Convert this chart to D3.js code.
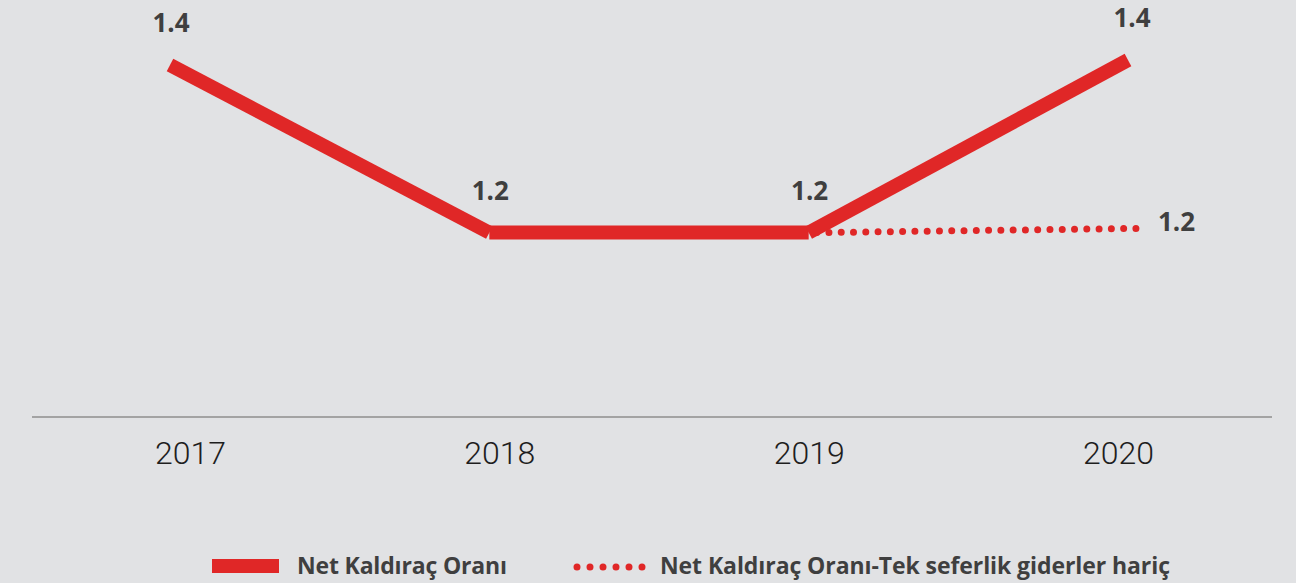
<!DOCTYPE html>
<html>
<head>
<meta charset="utf-8">
<script src="https://cdn.jsdelivr.net/npm/d3@7"></script>
<style>
  html, body { margin: 0; padding: 0; background: #e1e2e4; }
  svg { display: block; }
</style>
</head>
<body>
<div id="viz"></div>
<script>
// veriler
const years = ["2017", "2018", "2019", "2020"];
const netLeverage = [1.40, 1.20, 1.20, 1.406];
const netLeverageExOneOff = [null, null, 1.20, 1.205];
const seriesNames = ["Net Kaldıraç Oranı", "Net Kaldıraç Oranı-Tek seferlik giderler hariç"];

const W = 1296, H = 583;
const RED = "#e02727";
const LABEL = "#3f3f3f";

const svg = d3.select("#viz").append("svg")
    .attr("width", W)
    .attr("height", H);

svg.append("rect")
    .attr("width", W)
    .attr("height", H)
    .attr("fill", "#e1e2e4");

// ölçekler
const x = d3.scalePoint().domain(years).range([170, 1128]);
const xTick = d3.scalePoint().domain(years).range([190, 1118]);
const y = d3.scaleLinear().domain([0.98, 1.4]).range([417, 65]);

// taban çizgisi
svg.append("line")
    .attr("x1", 32)
    .attr("x2", 1272)
    .attr("y1", y(0.98))
    .attr("y2", y(0.98))
    .attr("stroke", "#a3a3a3")
    .attr("stroke-width", 2);

// yıl etiketleri
const axis = svg.append("g")
    .attr("transform", `translate(0,${y(0.98)})`)
    .call(d3.axisBottom(xTick).tickSize(0).tickPadding(24));
axis.select(".domain").remove();
axis.selectAll("text")
    .attr("font-family", "Roboto, sans-serif")
    .attr("font-weight", 300)
    .attr("font-size", 32)
    .attr("fill", "#1e1e1e")
    .attr("dy", "0.71em");

// noktalı seri (altta, biraz sağa kaymış)
const dotted = years.map((yr, i) => ({ yr, v: netLeverageExOneOff[i] }))
    .filter(d => d.v != null);

svg.append("path")
    .datum(dotted)
    .attr("transform", "translate(8,0)")
    .attr("d", d3.line().x(d => x(d.yr)).y(d => y(d.v)))
    .attr("fill", "none")
    .attr("stroke", RED)
    .attr("stroke-width", 7)
    .attr("stroke-linecap", "round")
    .attr("stroke-dasharray", "0,12.28");

// düz seri: her parça ayrı (köşelerde çentik)
const solid = years.map((yr, i) => ({ yr, v: netLeverage[i] }));
svg.selectAll(".seg")
    .data(d3.pairs(solid))
    .join("line")
    .attr("class", "seg")
    .attr("x1", d => x(d[0].yr))
    .attr("y1", d => y(d[0].v))
    .attr("x2", d => x(d[1].yr))
    .attr("y2", d => y(d[1].v))
    .attr("stroke", RED)
    .attr("stroke-width", 14)
    .attr("stroke-linecap", "butt");

// değer etiketleri
const fmt = d3.format(".1f");
svg.selectAll(".val")
    .data(solid)
    .join("text")
    .attr("class", "val")
    .attr("x", d => x(d.yr) + (d.yr === "2020" ? 4 : 1))
    .attr("y", d => y(d.v) - 33)
    .attr("text-anchor", "middle")
    .attr("font-family", "'Open Sans', sans-serif")
    .attr("font-weight", 700)
    .attr("font-size", 26)
    .attr("fill", LABEL)
    .text(d => fmt(d.v));

const last = dotted[dotted.length - 1];
svg.append("text")
    .attr("x", x(last.yr) + 30)
    .attr("y", y(last.v) + 3)
    .attr("font-family", "'Open Sans', sans-serif")
    .attr("font-weight", 700)
    .attr("font-size", 26)
    .attr("fill", LABEL)
    .text(fmt(last.v));

// lejant
const legend = svg.append("g");
legend.append("rect")
    .attr("x", 212)
    .attr("y", 559)
    .attr("width", 67)
    .attr("height", 14)
    .attr("fill", RED);
legend.append("text")
    .attr("x", 297)
    .attr("y", 574)
    .attr("font-family", "'Open Sans', sans-serif")
    .attr("font-weight", 700)
    .attr("font-size", 23)
    .attr("fill", LABEL)
    .attr("textLength", 210)
    .text(seriesNames[0]);

legend.append("line")
    .attr("x1", 577)
    .attr("x2", 642.5)
    .attr("y1", 567)
    .attr("y2", 567)
    .attr("stroke", RED)
    .attr("stroke-width", 7)
    .attr("stroke-linecap", "round")
    .attr("stroke-dasharray", "0,13");
legend.append("text")
    .attr("x", 660)
    .attr("y", 574)
    .attr("font-family", "'Open Sans', sans-serif")
    .attr("font-weight", 700)
    .attr("font-size", 23)
    .attr("fill", LABEL)
    .attr("textLength", 510)
    .text(seriesNames[1]);
</script>
</body>
</html>
